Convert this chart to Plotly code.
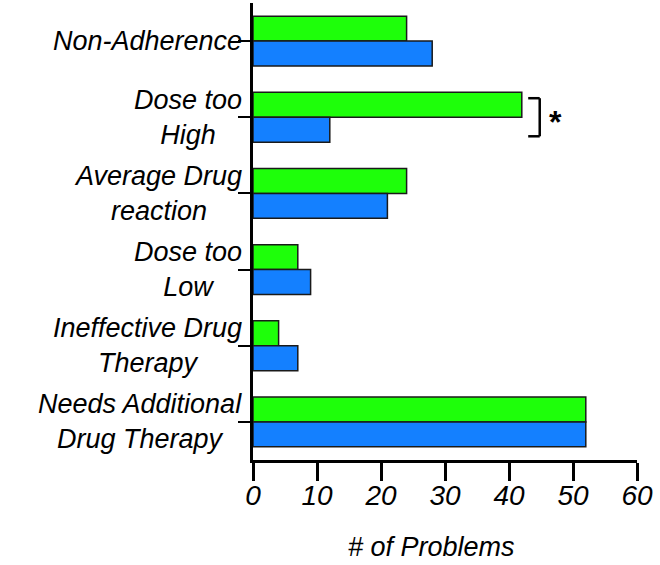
import plotly.graph_objects as go

categories = ["Non-Adherence", "Dose too<br>High", "Average Drug<br>reaction",
              "Dose too<br>Low", "Ineffective Drug<br>Therapy",
              "Needs Additional<br>Drug Therapy"]
green_values = [24, 42, 24, 7, 4, 52]
blue_values = [28, 12, 21, 9, 7, 52]
x_ticks = [0, 10, 20, 30, 40, 50, 60]
x_title = "# of Problems"

FONT = "Liberation Sans, Arial, Helvetica, sans-serif"
GREEN = "#1EFF0A"
BLUE = "#1480FF"
OUTLINE = "#1a1a1a"

fig = go.Figure()
fig.add_trace(go.Bar(y=categories, x=green_values, orientation="h",
                     marker=dict(color=GREEN, line=dict(color=OUTLINE, width=1.5)),
                     showlegend=False))
fig.add_trace(go.Bar(y=categories, x=blue_values, orientation="h",
                     marker=dict(color=BLUE, line=dict(color=OUTLINE, width=1.5)),
                     showlegend=False))

annotations = []
for c in categories:
    annotations.append(dict(text=c, xref="paper", x=0, xanchor="right", xshift=-9,
                            yref="y", y=c, yanchor="middle", align="center",
                            showarrow=False,
                            font=dict(family=FONT, size=27, color="black", style="italic")))

# axis title
annotations.append(dict(text=x_title, xref="paper", x=0.464, xanchor="center",
                        yref="paper", y=0, yanchor="middle", yshift=-87,
                        showarrow=False,
                        font=dict(family=FONT, size=27, color="black", style="italic")))

# significance bracket around "Dose too High"
bx0, bx1 = 43, 44.8
yc = 1
fig.add_shape(type="line", xref="x", yref="y", x0=bx0, x1=bx1, y0=yc - 0.25, y1=yc - 0.25,
              line=dict(color="black", width=2.5))
fig.add_shape(type="line", xref="x", yref="y", x0=bx1, x1=bx1, y0=yc - 0.25, y1=yc + 0.25,
              line=dict(color="black", width=2.5))
fig.add_shape(type="line", xref="x", yref="y", x0=bx0, x1=bx1, y0=yc + 0.25, y1=yc + 0.25,
              line=dict(color="black", width=2.5))
annotations.append(dict(text="<b>*</b>", xref="x", x=47.3, yref="y", y=yc, yanchor="middle",
                        yshift=-5, showarrow=False,
                        font=dict(family=FONT, size=32, color="black")))

fig.update_layout(
    width=660, height=565,
    margin=dict(l=253, r=23, t=3, b=105),
    paper_bgcolor="white", plot_bgcolor="white",
    barmode="group", bargap=0.345, bargroupgap=0,
    annotations=annotations,
    xaxis=dict(range=[0, 60], tickvals=x_ticks, ticktext=[str(v) for v in x_ticks],
               showline=True, linecolor="black", linewidth=2.5,
               ticks="outside", ticklen=18, tickwidth=2.5, tickcolor="black",
               ticklabelstandoff=-9,
               showgrid=False, zeroline=False,
               tickfont=dict(family=FONT, size=28, color="black", style="italic")),
    yaxis=dict(categoryorder="array", categoryarray=categories, range=[5.5, -0.5],
               showline=True, linecolor="black", linewidth=2.5,
               ticks="outside", ticklen=12, tickwidth=2, tickcolor="black",
               showticklabels=False, showgrid=False, zeroline=False),
)

fig.write_html("out.html", config={"displayModeBar": False},
               post_script="document.body.style.margin='0';document.body.style.overflow='hidden';")
